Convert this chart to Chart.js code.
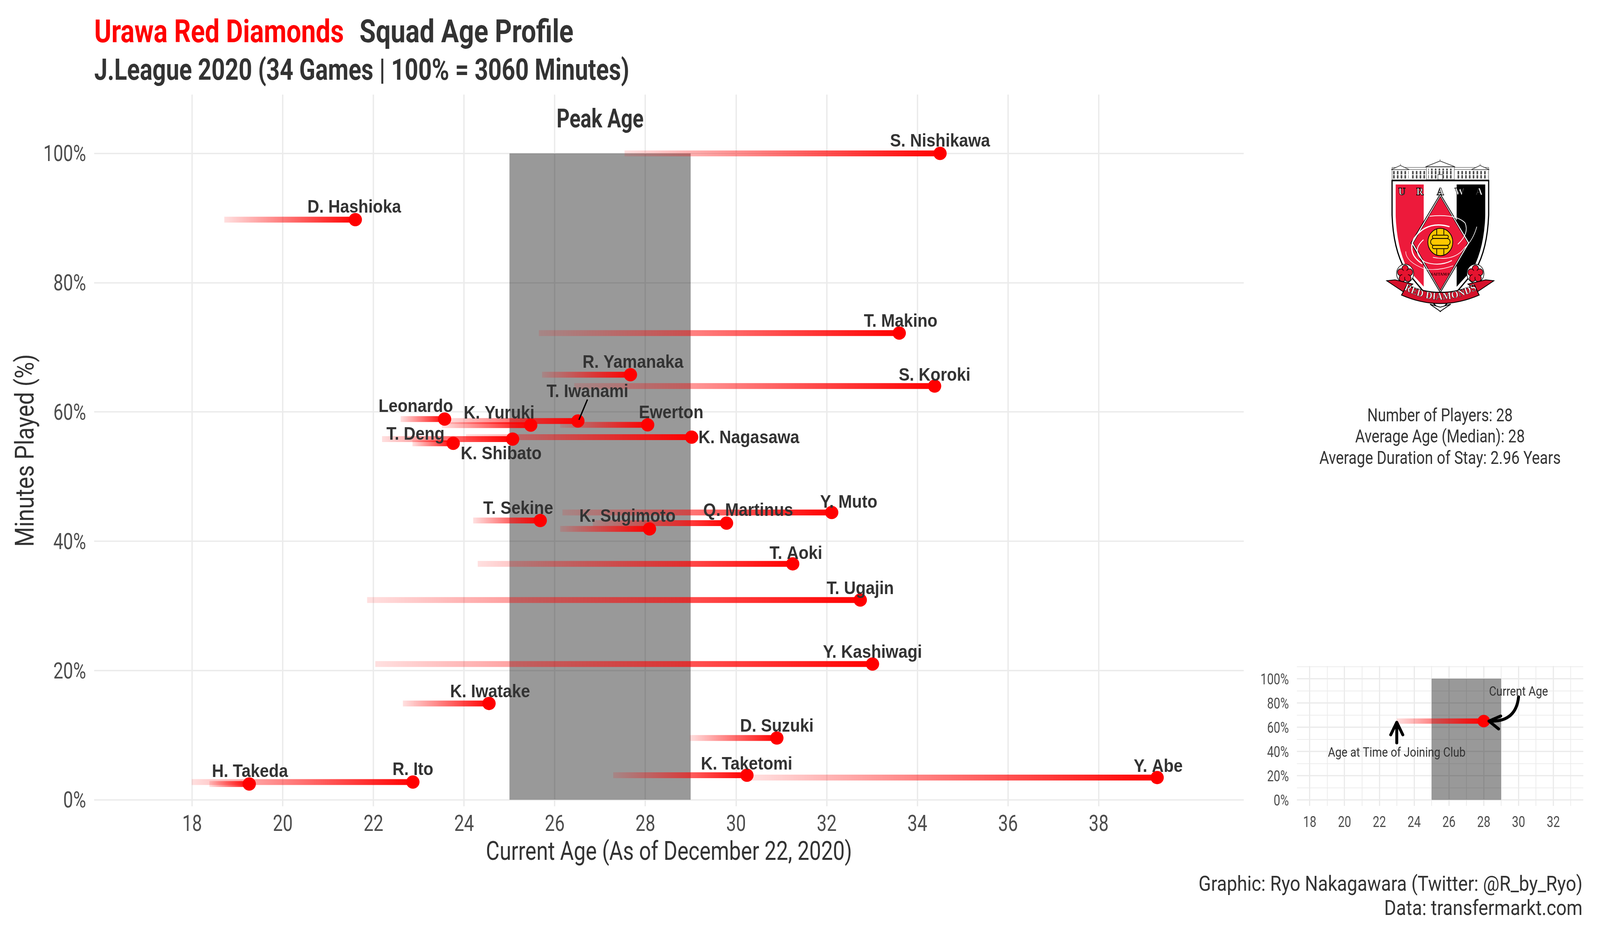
<!DOCTYPE html>
<html>
<head>
<meta charset="utf-8">
<title>Urawa Red Diamonds Squad Age Profile</title>
<script src="https://cdn.jsdelivr.net/npm/chart.js@4/dist/chart.umd.js"></script>
<style>
  html, body { margin: 0; padding: 0; background: #fff; overflow: hidden; }
  #page { position: relative; width: 100vw; height: 2400px; overflow: hidden; }
  canvas { position: absolute; left: 0; top: 0; }
  #crest { position: absolute; top: 350px; height: 500px; }
</style>
</head>
<body>
<div id="page">
  <canvas id="main-chart"></canvas>
  <canvas id="key-chart"></canvas>

  <!-- club crest -->
  <svg id="crest" viewBox="0 0 1500 1500" preserveAspectRatio="none" xmlns="http://www.w3.org/2000/svg">
    <defs>
      <pattern id="win" x="510" y="262" width="32" height="62" patternUnits="userSpaceOnUse">
        <rect x="4" y="0" width="13" height="26" fill="#444"/>
        <rect x="4" y="32" width="13" height="26" fill="#444"/>
      </pattern>
      <clipPath id="shield-in">
        <path d="M375 366 H1132 V600 Q1122 850 1030 1010 L752 1290 L472 1010 Q385 850 375 600 Z"/>
      </clipPath>
      <path id="ribbon-arc" d="M462 1180 Q752 1320 1045 1180"/>
    </defs>
    <!-- building -->
    <rect x="345" y="250" width="815" height="80" fill="#fff" stroke="#333" stroke-width="3"/>
    <rect x="345" y="235" width="815" height="16" fill="#fff" stroke="#333" stroke-width="3"/>
    <rect x="505" y="262" width="125" height="62" fill="url(#win)"/>
    <rect x="885" y="262" width="125" height="62" fill="url(#win)"/>
    <rect x="350" y="262" width="135" height="62" fill="url(#win)"/>
    <rect x="1020" y="262" width="135" height="62" fill="url(#win)"/>
    <rect x="635" y="232" width="235" height="96" fill="#fff" stroke="#333" stroke-width="3"/>
    <rect x="650" y="244" width="205" height="80" fill="url(#win)"/>
    <rect x="732" y="290" width="40" height="38" fill="#fff" stroke="#333" stroke-width="4"/>
    <polygon points="627,230 750,186 877,230" fill="#fff" stroke="#333" stroke-width="5"/>
    <polygon points="338,252 415,220 490,252" fill="#fff" stroke="#333" stroke-width="5"/>
    <polygon points="1014,252 1088,220 1165,252" fill="#fff" stroke="#333" stroke-width="5"/>
    <line x1="750" y1="172" x2="750" y2="188" stroke="#333" stroke-width="3"/>
    <line x1="415" y1="208" x2="415" y2="222" stroke="#333" stroke-width="3"/>
    <line x1="1088" y1="208" x2="1088" y2="222" stroke="#333" stroke-width="3"/>
    <!-- shield -->
    <path d="M345 336 H1160 V600 Q1150 860 1050 1020 L752 1340 L455 1020 Q355 860 345 600 Z" fill="#fff" stroke="#000" stroke-width="10"/>
    <g clip-path="url(#shield-in)">
      <rect x="370" y="360" width="242" height="950" fill="#ED1A3B"/>
      <rect x="890" y="360" width="250" height="950" fill="#000"/>
    </g>
    <!-- diamond -->
    <polygon points="752,440 1000,815 752,1195 505,815" fill="#fff" stroke="#000" stroke-width="6"/>
    <polygon points="752,458 984,815 752,1178 523,815" fill="#ED1A3B" stroke="#000" stroke-width="4"/>
    <!-- swirl -->
    <g fill="none" stroke="#fff">
      <path d="M830 690 Q640 640 530 780 Q470 900 600 975" stroke-width="9"/>
      <path d="M900 825 Q1000 740 960 660 Q880 590 660 610" stroke-width="6"/>
      <path d="M690 925 Q870 960 960 850 Q1030 790 1060 690" stroke-width="5"/>
      <path d="M610 790 Q500 880 620 960 Q740 1000 850 950" stroke-width="7"/>
      <path d="M460 880 Q460 960 620 1015 Q740 1030 860 990" stroke-width="4"/>
    </g>
    <!-- ball -->
    <circle cx="752" cy="808" r="105" fill="#FFC800" stroke="#000" stroke-width="6"/>
    <g fill="#FFC800" stroke="#000" stroke-width="6">
      <rect x="685" y="755" width="135" height="26" rx="13"/>
      <rect x="670" y="781" width="165" height="52" rx="26"/>
      <rect x="685" y="833" width="135" height="26" rx="13"/>
    </g>
    <path d="M722 708 V752 M782 708 V752 M722 862 V905 M782 862 V905" stroke="#000" stroke-width="6"/>
    <!-- blossoms -->
    <g fill="#E5132F" stroke="#000" stroke-width="5">
      <circle cx="455" cy="1050" r="72" fill="#fff"/>
      <circle cx="455" cy="1012" r="27"/><circle cx="418" cy="1040" r="27"/><circle cx="492" cy="1040" r="27"/>
      <circle cx="432" cy="1085" r="27"/><circle cx="478" cy="1085" r="27"/><circle cx="455" cy="1050" r="26" stroke="none"/>
      <circle cx="1048" cy="1050" r="72" fill="#fff"/>
      <circle cx="1048" cy="1012" r="27"/><circle cx="1011" cy="1040" r="27"/><circle cx="1085" cy="1040" r="27"/>
      <circle cx="1025" cy="1085" r="27"/><circle cx="1071" cy="1085" r="27"/><circle cx="1048" cy="1050" r="26" stroke="none"/>
    </g>
    <!-- ribbon -->
    <path d="M300 1105 L370 1098 L520 1130 L440 1190 Z" fill="#D5112B" stroke="#000" stroke-width="6"/>
    <path d="M1204 1105 L1135 1098 L985 1130 L1065 1190 Z" fill="#D5112B" stroke="#000" stroke-width="6"/>
    <path d="M470 1138 Q752 1250 1040 1138 L1080 1215 Q752 1345 425 1215 Z" fill="#D5112B" stroke="#000" stroke-width="7"/>
    <polygon points="665,1285 752,1340 840,1285 752,1308" fill="#fff" stroke="#000" stroke-width="6"/>
    <text font-family="Liberation Serif" font-weight="bold" font-size="78" fill="#fff" stroke="#000" stroke-width="2" letter-spacing="2"><textPath href="#ribbon-arc" startOffset="50%" text-anchor="middle">RED DIAMONDS</textPath></text>
    <!-- lettering -->
    <g font-family="Liberation Serif" font-weight="bold" font-size="84" fill="#fff" stroke="#000" stroke-width="4" text-anchor="middle">
      <text x="428" y="448">U</text><text x="580" y="448">R</text><text x="752" y="448">A</text><text x="915" y="448">W</text><text x="1080" y="448">A</text>
    </g>
    <text x="752" y="1065" font-family="Liberation Serif" font-weight="bold" font-size="34" fill="#300" text-anchor="middle">SAITAMA</text>
  </svg>
</div>

<script>
// Squad values
const players = ["S. Nishikawa", "D. Hashioka", "T. Makino", "R. Yamanaka", "S. Koroki", "T. Iwanami", "Leonardo", "K. Yuruki", "Ewerton", "K. Nagasawa", "T. Deng", "K. Shibato", "Y. Muto", "T. Sekine", "Q. Martinus", "K. Sugimoto", "T. Aoki", "T. Ugajin", "Y. Kashiwagi", "K. Iwatake", "D. Suzuki", "K. Taketomi", "Y. Abe", "R. Ito", "H. Takeda"]
const currentAge = [34.5, 21.6, 33.6, 27.67, 34.38, 26.51, 23.57, 25.47, 28.05, 29.02, 25.07, 23.76, 32.11, 25.68, 29.79, 28.09, 31.25, 32.74, 33.01, 24.55, 30.9, 30.24, 39.29, 22.87, 19.26]
const joinedAge = [27.54, 18.71, 25.65, 25.72, 26.43, 23.6, 22.6, 23.51, 26.12, 24.04, 22.19, 22.86, 26.17, 24.2, 26.84, 26.12, 24.3, 21.86, 22.04, 22.65, 28.98, 27.29, 30.3, 17.99, 18.38]
const minutesPlayed = [100, 89.75, 72.2, 65.76, 64, 58.6, 58.9, 57.96, 58, 56.1, 55.8, 55.15, 44.45, 43.2, 42.8, 41.9, 36.5, 30.9, 21, 14.9, 9.55, 3.8, 3.44, 2.74, 2.44]

// Peak age band
const peakAges = [25, 29]
const peakTop = 100

// Key chart values
const keyJoinedAge = 23
const keyCurrentAge = 28
const keyMinutes = 65

// Label placement relative to each player's dot, in reference pixels
const labelNudge = {
  "S. Nishikawa": [0, -33], "D. Hashioka": [-3, -34], "T. Makino": [4, -32], "R. Yamanaka": [7, -34],
  "S. Koroki": [0, -30], "T. Iwanami": [27, -77], "Leonardo": [-81, -34], "K. Yuruki": [-89, -33],
  "Ewerton": [66, -33], "K. Nagasawa": [161, -1], "T. Deng": [-273, -14], "K. Shibato": [135, 25],
  "Y. Muto": [48, -28], "T. Sekine": [-62, -33], "Q. Martinus": [61, -34], "K. Sugimoto": [-62, -34],
  "T. Aoki": [9, -29], "T. Ugajin": [0, -31], "Y. Kashiwagi": [0, -32], "K. Iwatake": [3, -32],
  "D. Suzuki": [0, -32], "K. Taketomi": [-1, -30], "Y. Abe": [3, -30], "R. Ito": [0, -34], "H. Takeda": [2, -34],
}

const RED = "#ff0000"
const GRID = "#ebebeb"
const DARK = "#333333"
const TICK = "#4d4d4d"
const CONDENSED = 0.87

// The window can be narrower than the 4500px reference, so horizontal layout scales with it
const K = window.innerWidth / 4500

// Roboto squeezed sideways stands in for the condensed face of the original
function putText(ctx, text, x, y, opts) {
  ctx.save()
  ctx.font = opts.font
  ctx.fillStyle = opts.color || DARK
  ctx.textBaseline = "alphabetic"
  ctx.textAlign = "left"
  let squeeze = (opts.squeeze === undefined ? CONDENSED : opts.squeeze) * (opts.rotate ? 1 : K)
  const natural = ctx.measureText(text).width
  if (opts.width) squeeze = (opts.width * (opts.rotate ? 1 : K)) / natural
  const w = natural * squeeze
  let dx = 0
  if (opts.align === "center") dx = -w / 2
  if (opts.align === "right") dx = -w
  ctx.translate(x, y)
  if (opts.rotate) ctx.rotate(opts.rotate)
  ctx.translate(dx, 0)
  ctx.scale(squeeze, 1)
  ctx.fillText(text, 0, 0)
  ctx.restore()
}

// Red ramp along a segment, pale at the joining age and solid at the current age
function rampFor(chart, from, to) {
  const x = chart.scales.x
  if (!chart.chartArea) return RED
  const g = chart.ctx.createLinearGradient(x.getPixelForValue(from), 0, x.getPixelForValue(to), 0)
  g.addColorStop(0, "rgba(255,0,0,0.12)")
  g.addColorStop(1, "rgba(255,0,0,1)")
  return g
}

function segmentDataset(from, to, y, thickness) {
  return {
    type: "line",
    data: [{ x: from, y: y }, { x: to, y: y }],
    borderColor: (c) => rampFor(c.chart, from, to),
    borderWidth: thickness,
    borderCapStyle: "butt",
    pointRadius: 0,
    fill: false,
    clip: false,
  }
}

function peakDataset() {
  return {
    type: "line",
    data: peakAges.map((a) => ({ x: a, y: peakTop })),
    backgroundColor: "rgba(0,0,0,0.4)",
    borderWidth: 0,
    pointRadius: 0,
    fill: "origin",
  }
}

function dotDataset(points, radius) {
  return {
    type: "scatter",
    data: points,
    backgroundColor: RED,
    borderWidth: 0,
    pointRadius: radius,
    clip: false,
  }
}

const mainText = {
  id: "mainText",
  afterDatasetsDraw(chart) {
    const ctx = chart.ctx
    const x = chart.scales.x
    const y = chart.scales.y

    // titles
    putText(ctx, "Urawa Red Diamonds", 265 * K, 108, { font: "bold 82px Roboto", color: RED, width: 702 })
    putText(ctx, "Squad Age Profile", 1011 * K, 108, { font: "bold 82px Roboto", width: 602 })
    putText(ctx, "J.League 2020 (34 Games | 100% = 3060 Minutes)", 265 * K, 204, { font: "bold 76px Roboto", width: 1505 })
    putText(ctx, "Peak Age", x.getPixelForValue(27), 326, { font: "bold 66px Roboto", align: "center", width: 245 })

    // axis ticks
    x.ticks.forEach((t) => {
      putText(ctx, String(t.value), x.getPixelForValue(t.value), 2126, { font: "57px Roboto", color: TICK, align: "center" })
    })
    y.ticks.forEach((t) => {
      putText(ctx, t.value + "%", 242 * K, y.getPixelForValue(t.value) + 20, { font: "57px Roboto", color: TICK, align: "right" })
    })

    // axis titles
    putText(ctx, "Current Age (As of December 22, 2020)", (chart.chartArea.left + chart.chartArea.right) / 2, 2200, { font: "66px Roboto", align: "center", width: 1030 })
    putText(ctx, "Minutes Played (%)", 95 * K, (chart.chartArea.top + chart.chartArea.bottom) / 2, { font: "66px Roboto", align: "center", rotate: -Math.PI / 2, width: 493 })

    // player labels
    players.forEach((name, i) => {
      const px = x.getPixelForValue(currentAge[i])
      const py = y.getPixelForValue(minutesPlayed[i])
      const nudge = labelNudge[name]
      putText(ctx, name, px + nudge[0] * K, py + nudge[1] + 16, { font: "bold 46px 'Liberation Sans'", align: "center", squeeze: 1 })
      if (name === "T. Iwanami") {
        ctx.save()
        ctx.strokeStyle = "#000"
        ctx.lineWidth = 3.5
        ctx.beginPath()
        ctx.moveTo(px + 27 * K, py - 55)
        ctx.lineTo(px + 3 * K, py - 3)
        ctx.stroke()
        ctx.restore()
      }
    })

    // side notes
    putText(ctx, "Number of Players: 28", 4050 * K, 1078, { font: "46px Roboto", align: "center", width: 409 })
    putText(ctx, "Average Age (Median): 28", 4050 * K, 1132, { font: "46px Roboto", align: "center", width: 477 })
    putText(ctx, "Average Duration of Stay: 2.96 Years", 4050 * K, 1187, { font: "46px Roboto", align: "center", width: 679 })

    // caption
    putText(ctx, "Graphic: Ryo Nakagawara (Twitter: @R_by_Ryo)", 4451 * K, 2279, { font: "54px Roboto", align: "right", width: 1080 })
    putText(ctx, "Data: transfermarkt.com", 4451 * K, 2341, { font: "54px Roboto", align: "right", width: 558 })
  },
}

const keyText = {
  id: "keyText",
  afterDatasetsDraw(chart) {
    const ctx = chart.ctx
    const x = chart.scales.x
    const y = chart.scales.y

    x.ticks.filter((t) => t.value % 2 === 0).forEach((t) => {
      putText(ctx, String(t.value), x.getPixelForValue(t.value), 2116, { font: "38px Roboto", color: TICK, align: "center" })
    })
    y.ticks.filter((t) => t.value % 20 === 0 && t.value <= 100).forEach((t) => {
      putText(ctx, t.value + "%", 3625 * K, y.getPixelForValue(t.value) + 14, { font: "38px Roboto", color: TICK, align: "right" })
    })

    putText(ctx, "Age at Time of Joining Club", x.getPixelForValue(23), 1936, { font: "33px Roboto", align: "center", width: 387 })
    putText(ctx, "Current Age", x.getPixelForValue(30), 1780, { font: "33px Roboto", align: "center", width: 166 })

    // arrows
    ctx.save()
    ctx.strokeStyle = "#000"
    ctx.lineWidth = 7.5
    ctx.lineCap = "round"
    ctx.lineJoin = "round"

    const upX = x.getPixelForValue(keyJoinedAge)
    const upTip = y.getPixelForValue(64)
    ctx.beginPath()
    ctx.moveTo(upX, y.getPixelForValue(47))
    ctx.lineTo(upX, upTip)
    ctx.moveTo(upX - 17 * K, upTip + 32)
    ctx.lineTo(upX, upTip)
    ctx.lineTo(upX + 17 * K, upTip + 32)
    ctx.stroke()

    const tipX = x.getPixelForValue(28.3)
    const tipY = y.getPixelForValue(keyMinutes)
    ctx.beginPath()
    ctx.moveTo(x.getPixelForValue(30), y.getPixelForValue(85))
    ctx.quadraticCurveTo(x.getPixelForValue(29.85), y.getPixelForValue(63.9), tipX, tipY)
    ctx.moveTo(tipX + 33 * K, tipY - 13)
    ctx.lineTo(tipX, tipY)
    ctx.lineTo(tipX + 27 * K, tipY + 20)
    ctx.stroke()
    ctx.restore()
  },
}

function keepTicks(scale, low, high) {
  scale.ticks = scale.ticks.filter((t) => t.value >= low && t.value <= high)
}

function axisBase(min, max, step, low, high, width) {
  return {
    type: "linear",
    min: min,
    max: max,
    border: { display: false },
    ticks: { display: false, stepSize: step, includeBounds: false },
    grid: { color: GRID, lineWidth: width, drawTicks: false },
    afterBuildTicks: (scale) => keepTicks(scale, low, high),
  }
}

// Size the canvases and place the crest for the real window
const mainCanvas = document.getElementById("main-chart")
const keyCanvas = document.getElementById("key-chart")
;[mainCanvas, keyCanvas].forEach((c) => {
  c.width = window.innerWidth
  c.height = 2400
})
const crest = document.getElementById("crest")
crest.style.left = 3800 * K + "px"
crest.style.width = 500 * K + "px"

// Main chart
const mainDatasets = [dotDataset(players.map((p, i) => ({ x: currentAge[i], y: minutesPlayed[i] })), 17)]
players.forEach((p, i) => {
  mainDatasets.push(segmentDataset(joinedAge[i], currentAge[i], minutesPlayed[i], 15))
})
mainDatasets.push(peakDataset())

new Chart(mainCanvas, {
  type: "scatter",
  data: { datasets: mainDatasets },
  options: {
    responsive: false,
    animation: false,
    devicePixelRatio: 1,
    layout: { padding: { left: 265 * K, right: 1002 * K, top: 242, bottom: 337 } },
    plugins: { legend: { display: false }, tooltip: { enabled: false }, title: { display: false } },
    scales: {
      x: axisBase(15.84, 41.2, 2, 18, 38, 3.5),
      y: axisBase(-1.01, 109.1, 20, 0, 100, 3.5),
    },
  },
  plugins: [mainText],
})

// Key chart
const keyDatasets = [
  dotDataset([{ x: keyCurrentAge, y: keyMinutes }], 16),
  segmentDataset(keyJoinedAge, keyCurrentAge, keyMinutes, 13.5),
  peakDataset(),
]
const keyMajorX = (c) => (c.tick && c.tick.value % 2 === 0 ? 3.2 : 1.8)
const keyMajorY = (c) => (c.tick && c.tick.value % 20 === 0 && c.tick.value <= 100 ? 3.2 : 1.8)

new Chart(keyCanvas, {
  type: "scatter",
  data: { datasets: keyDatasets },
  options: {
    responsive: false,
    animation: false,
    devicePixelRatio: 1,
    layout: { padding: { left: 3647.5 * K, right: 47 * K, top: 1704, bottom: 338 } },
    plugins: { legend: { display: false }, tooltip: { enabled: false }, title: { display: false } },
    scales: {
      x: axisBase(17.26, 33.72, 1, 18, 33, keyMajorX),
      y: axisBase(-5, 110.5, 10, 0, 110, keyMajorY),
    },
  },
  plugins: [keyText],
})
</script>
</body>
</html>
